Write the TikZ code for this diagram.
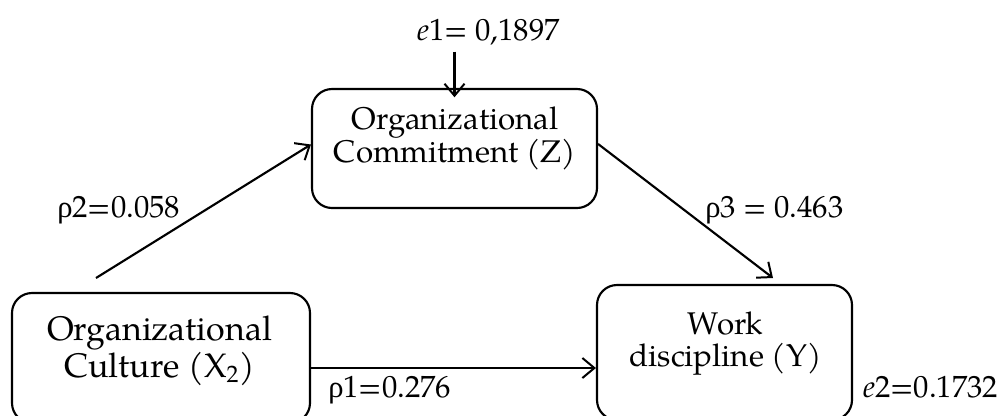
\documentclass[tikz,border=0pt]{standalone}
\usepackage{fontspec}
\setmainfont{TeX Gyre Pagella}
\newfontfamily\grk{Liberation Serif}
\usetikzlibrary{arrows.meta}
\begin{document}
\begin{tikzpicture}[x=0.75pt,y=-0.75pt,
  box/.style={draw, rounded corners=15pt, line width=1.6pt, inner sep=0pt},
  arr/.style={-{Straight Barb[length=9pt,width=15pt,line width=1.5pt]}, line width=1.6pt},
  lbl/.style={anchor=base west, inner sep=0pt, font=\fontsize{23}{27}\selectfont},
  txt/.style={align=center, inner sep=0pt}]
\useasboundingbox (0,0) rectangle (1003,415);
\clip (0,0) rectangle (1003,415);
% boxes
\node[box, minimum width=213.75pt, minimum height=89.25pt] (Z) at (454.5,148.5) {};
\node[box, minimum width=223.5pt, minimum height=97.5pt] (X) at (161,358) {};
\node[box, minimum width=191.25pt, minimum height=101.25pt] (Y) at (724.5,352.5) {};
% box texts
\node[txt, font=\fontsize{23.5}{24}\selectfont] (Zt) at (455,138.6) {Organizational\\Commitment (Z)};
\node[txt, font=\fontsize{25.5}{24}\selectfont] (Xt) at (159.5,350.9) {Organizational\\Culture (X\textsubscript{2})};
\node[txt, font=\fontsize{23.5}{24}\selectfont] (Yt) at (725.5,343.9) {Work\\discipline (Y)};
% labels
\node[lbl] (E1) at (417,40) {\textit{e}1= 0,1897};
\node[lbl] (E2) at (863,397) {\textit{e}2=0.1732};
\node[lbl] (R2) at (57,217) {{\grk ρ}2=0.058};
\node[lbl] (R1) at (328,397) {{\grk ρ}1=0.276};
\node[lbl] (R3) at (705,217) {{\grk ρ}3 = 0.463};
% free ends
\coordinate (xs) at (96,278);
\coordinate (ye) at (773,278);
\coordinate (h) at (0,368);
% connectors
\draw[arr, shorten <=5pt] (Z.north |- E1.south) -- ([yshift=-7pt]Z.north);
\draw[arr] (xs) -- ([yshift=3pt]Z.west);
\draw[arr] ([yshift=3.4pt]Z.east) -- (ye);
\draw[arr] (X.east |- h) -- (Y.west |- h);
\end{tikzpicture}
\end{document}
